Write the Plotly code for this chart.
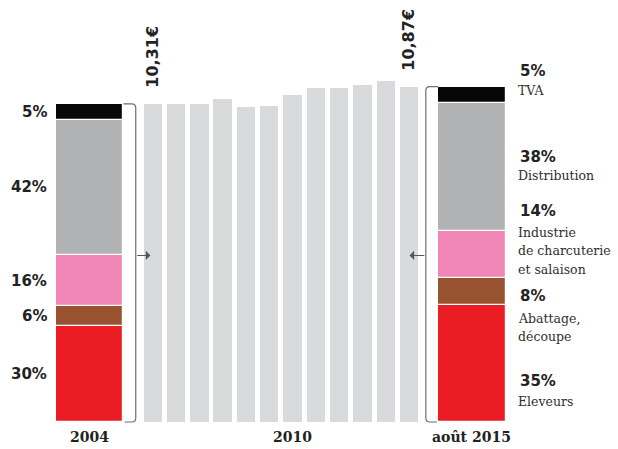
import plotly.graph_objects as go

# Retail price of ham per kg (EUR), 2004 to August 2015
years = list(range(2004, 2016))
prices = [10.31, 10.31, 10.30, 10.47, 10.21, 10.24, 10.60, 10.83, 10.83, 10.92, 11.05, 10.87]

# Breakdown of the price by actor (share in %), bottom to top
segments = ["Eleveurs", "Abattage, découpe", "Industrie de charcuterie et salaison", "Distribution", "TVA"]
share_2004 = [30, 6, 16, 42, 5]
share_2015 = [35, 8, 14, 38, 5]
seg_colors = ["#ec1c24", "#98522f", "#f086b5", "#b1b2b4", "#070707"]

# Right-hand legend texts (one entry per printed line)
right_pct = ["35%", "8%", "14%", "38%", "5%"]
right_names = [["Eleveurs"], ["Abattage,", "découpe"], ["Industrie", "de charcuterie", "et salaison"],
               ["Distribution"], ["TVA"]]
bottom_labels = ["2004", "2010", "août 2015"]

W, H = 618, 449
idx = list(range(len(years)))
left_x, right_x, stack_w = -2.71, 13.70, 2.9
x_range = [-6.556, 19.968]
y_range = [-0.875, 13.68]

def stack(total, shares):
    s = sum(shares)
    vals = [total * p / s for p in shares]
    bases, acc = [], 0.0
    for v in vals:
        bases.append(acc)
        acc += v
    return vals, bases

fig = go.Figure()

# Yearly prices
fig.add_trace(go.Bar(x=idx, y=prices, width=0.79, marker=dict(color="#d9dadc", line=dict(width=0)),
                     hoverinfo="skip", showlegend=False))

v04, b04 = stack(prices[0], share_2004)
v15, b15 = stack(prices[-1], share_2015)
for i in range(len(segments)):
    fig.add_trace(go.Bar(x=[left_x, right_x], y=[v04[i], v15[i]], base=[b04[i], b15[i]],
                         width=stack_w, name=segments[i],
                         marker=dict(color=seg_colors[i], line=dict(color="white", width=1.2)),
                         showlegend=False))

ann = []
txt = "#222222"
# Rotated price labels
for j in (0, len(years) - 1):
    ann.append(dict(x=idx[j], y=prices[j], xref="x", yref="y", text=f"{prices[j]:.2f}€".replace(".", ","),
                    textangle=-90, showarrow=False, yanchor="bottom", yshift=14,
                    font=dict(family="DejaVu Sans", size=16, color=txt, weight="bold")))

# 2004 share labels at segment middles
for i in range(len(segments)):
    ann.append(dict(x=-6.556, y=b04[i] + v04[i] / 2, xref="x", yref="y", text=f"{share_2004[i]}%",
                    xanchor="right", xshift=49, showarrow=False,
                    font=dict(family="DejaVu Sans", size=15, color=txt, weight="bold")))

# Right legend
pct_y = [381, 296, 211, 157, 71]
name_y = [[401], [318, 336], [232, 251, 269], [176], [91]]
for i in range(len(segments)):
    ann.append(dict(x=518 / W, y=1 - pct_y[i] / H, xref="paper", yref="paper", text=right_pct[i],
                    xanchor="left", yanchor="middle", showarrow=False,
                    font=dict(family="DejaVu Sans", size=15, color=txt, weight="bold")))
    for line, ly in zip(right_names[i], name_y[i]):
        ann.append(dict(x=516 / W, y=1 - ly / H, xref="paper", yref="paper", text=line,
                        xanchor="left", yanchor="middle", align="left", showarrow=False,
                        font=dict(family="DejaVu Serif", size=12.5, color="#2e2e2e")))

# Bottom labels
for xv, t in zip([left_x, idx[years.index(2010)], right_x], bottom_labels):
    ann.append(dict(x=xv, y=-0.49, xref="x", yref="y", text=t, showarrow=False, yanchor="middle",
                    font=dict(family="DejaVu Serif", size=14, color=txt, weight="bold")))

# Brackets and arrows linking the breakdown bars with the yearly series
gap = 0.53
r, ry = 0.17, 0.13
lb = left_x + stack_w / 2 + gap
le = left_x + stack_w / 2
rb = right_x - stack_w / 2 - gap
re_ = right_x - stack_w / 2
top_l, top_r = prices[0], prices[-1]
path_l = (f"M {le},{top_l} L {lb - r},{top_l} Q {lb},{top_l} {lb},{top_l - ry} "
          f"L {lb},{ry} Q {lb},0 {lb - r},0 L {le + 0.05},0")
path_r = (f"M {re_},{top_r} L {rb + r},{top_r} Q {rb},{top_r} {rb},{top_r - ry} "
          f"L {rb},{ry} Q {rb},0 {rb + r},0 L {re_ - 0.05},0")
shapes = [dict(type="path", path=p, xref="x", yref="y", line=dict(color="#6f6f6f", width=1.2))
          for p in (path_l, path_r)]

arrow_y = 5.4
ann.append(dict(x=-0.1, y=arrow_y, ax=lb, ay=arrow_y, xref="x", yref="y", axref="x", ayref="y",
                text="", showarrow=True, arrowhead=1, arrowsize=1.4, arrowwidth=1.1, arrowcolor="#555555"))
ann.append(dict(x=11.02, y=arrow_y, ax=rb, ay=arrow_y, xref="x", yref="y", axref="x", ayref="y",
                text="", showarrow=True, arrowhead=1, arrowsize=1.4, arrowwidth=1.1, arrowcolor="#555555"))

fig.update_layout(
    width=W, height=H, margin=dict(l=0, r=0, t=0, b=0),
    paper_bgcolor="white", plot_bgcolor="white",
    barmode="overlay", bargap=0,
    xaxis=dict(range=x_range, visible=False, fixedrange=True),
    yaxis=dict(range=y_range, visible=False, fixedrange=True),
    annotations=ann, shapes=shapes,
)

fig.write_html("out.html")
